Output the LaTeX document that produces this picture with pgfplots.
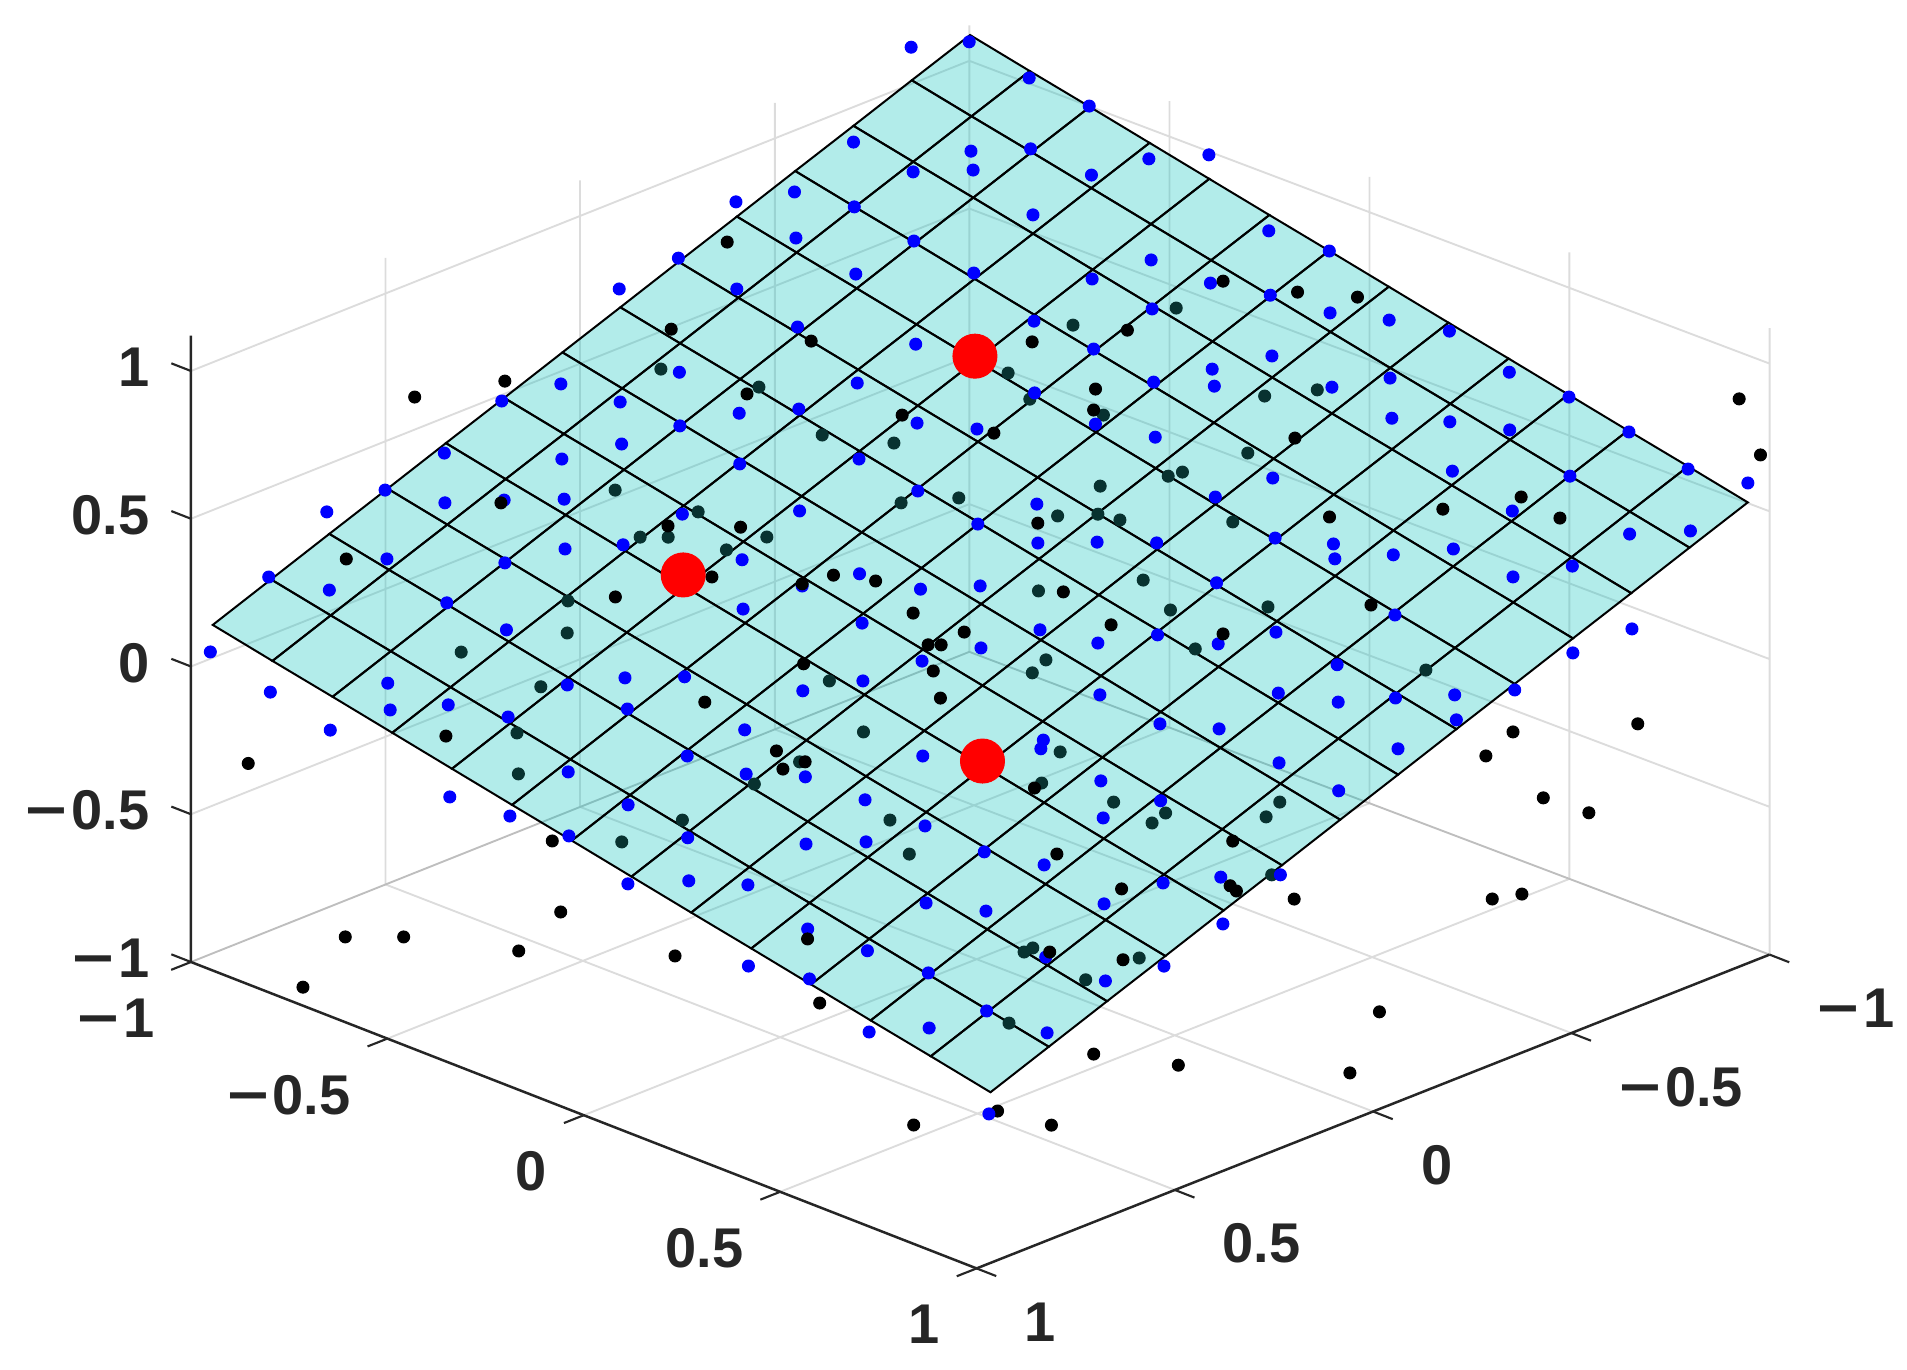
\documentclass[border=0pt]{standalone}
\usepackage{fontspec}
\setmainfont{Liberation Sans}
\usepackage{graphicx}
\usepackage{pgfplots}
\pgfplotsset{compat=1.18}
\definecolor{axisdark}{RGB}{38,38,38}
\definecolor{wallgray}{RGB}{220,220,220}
\definecolor{seamgray}{RGB}{190,190,190}
\definecolor{underplane}{RGB}{8,50,48}
\newcommand{\mn}{\scalebox{1.28}[1]{−}\hspace{0.07em}}

\begin{document}
\begin{tikzpicture}
\useasboundingbox (-392.12pt,-282.88pt) rectangle (370.68pt,265.12pt);
\begin{axis}[
    at={(0pt,0pt)}, anchor=origin,
    x={(-158.6pt,-62.76pt)}, y={(157.12pt,-61.28pt)}, z={(0pt,118.2pt)},
    xmin=-1, xmax=1, ymin=-1, ymax=1, zmin=-1, zmax=1.12,
    clip=false,
    axis line style={draw=none},
    major tick length=0pt,
    xtick={-1,-0.5,0,0.5,1}, ytick={-1,-0.5,0,0.5,1}, ztick={-1,-0.5,0,0.5,1},
    xticklabels={\mn 1,\mn 0.5,0,0.5,1},
    yticklabels={\mn 1,\mn 0.5,0,0.5,1},
    zticklabels={\mn 1,\mn 0.5,0,0.5,1},
    tick label style={font=\bfseries\fontsize{22.4}{24}\selectfont, text=axisdark, inner sep=0pt},
    xticklabel style={anchor=west, xshift=19pt, yshift=-21.5pt},
    yticklabel style={anchor=east, xshift=-14.5pt, yshift=-22.5pt},
    zticklabel style={anchor=east, xshift=-16.5pt, yshift=1.5pt},
    colormap={planecol}{rgb255=(16,195,190) rgb255=(16,195,190)},
    unbounded coords=jump,
]
% wall and floor grid
\addplot3[wallgray, line width=0.75pt] coordinates {
(0.5,1,-1) (0.5075,-1.002,-1) (nan,nan,nan)
(0,1,-1) (0.015,-1.004,-1) (nan,nan,nan)
(-0.5,1,-1) (-0.4775,-1.005,-1) (nan,nan,nan)
(1,0.5,-1) (-0.9925,0.498,-1) (nan,nan,nan)
(1,0,-1) (-0.985,-0.0035,-1) (nan,nan,nan)
(1,-0.5,-1) (-0.9775,-0.505,-1) (nan,nan,nan)
(0.5075,-1.002,-1) (0.5075,-1.002,1.12) (nan,nan,nan)
(0.015,-1.004,-1) (0.015,-1.004,1.12) (nan,nan,nan)
(-0.4775,-1.005,-1) (-0.4775,-1.005,1.12) (nan,nan,nan)
(-0.97,-1.007,-1) (-0.97,-1.007,1.12) (nan,nan,nan)
(-1,1,-1) (-1,1,1.12) (nan,nan,nan)
(-0.9925,0.498,-1) (-0.9925,0.498,1.12) (nan,nan,nan)
(-0.985,-0.0035,-1) (-0.985,-0.0035,1.12) (nan,nan,nan)
(-0.9775,-0.505,-1) (-0.9775,-0.505,1.12) (nan,nan,nan)
(1,-1,-0.5) (-0.97,-1.007,-0.5) (-1,1,-0.5) (nan,nan,nan)
(1,-1,0) (-0.97,-1.007,0) (-1,1,0) (nan,nan,nan)
(1,-1,0.5) (-0.97,-1.007,0.5) (-1,1,0.5) (nan,nan,nan)
(1,-1,1) (-0.97,-1.007,1) (-1,1,1)
};
\addplot3[seamgray, line width=0.75pt] coordinates {(1,-1,-1) (-0.97,-1.007,-1) (-1,1,-1)};

% axis lines and ticks
\addplot3[axisdark, line width=1pt] coordinates {(-1,1,-1) (1,1,-1) (1,-1,-1) (1,-1,1.12)};
\addplot3[axisdark, line width=0.85pt] coordinates {
(-1,1,-1) (-1,1.05,-1) (nan,nan,nan)
(-0.5,1,-1) (-0.5,1.05,-1) (nan,nan,nan)
(0,1,-1) (0,1.05,-1) (nan,nan,nan)
(0.5,1,-1) (0.5,1.05,-1) (nan,nan,nan)
(1,1,-1) (1,1.05,-1) (nan,nan,nan)
(1,-1,-1) (1.05,-1,-1) (nan,nan,nan)
(1,-0.5,-1) (1.05,-0.5,-1) (nan,nan,nan)
(1,0,-1) (1.05,0,-1) (nan,nan,nan)
(1,0.5,-1) (1.05,0.5,-1) (nan,nan,nan)
(1,1,-1) (1.05,1,-1) (nan,nan,nan)
(1,-1,-1) (1,-1.05,-1) (nan,nan,nan)
(1,-1,-0.5) (1,-1.05,-0.5) (nan,nan,nan)
(1,-1,0) (1,-1.05,0) (nan,nan,nan)
(1,-1,0.5) (1,-1.05,0.5) (nan,nan,nan)
(1,-1,1) (1,-1.05,1)
};

% points outside the plane
\addplot3[only marks, mark=*, mark size=2.4pt, black] table {
x y z
-0.445 0.907 0
-0.334 0.950 0
-0.461 0.968 -0.2
-0.565 0.979 -0.3
-0.722 0.945 -0.1
-0.953 0.970 0.89
-0.980 0.997 0.7
0.918 -0.163 -0.2
0.917 -0.938 -0.34
0.916 -0.692 -0.8
0.843 -0.617 -0.8
0.756 -0.305 -0.6
0.744 -0.424 -0.8
0.988 -0.727 -0.95
0.754 -0.016 -0.6
0.724 0.322 -0.6
0.848 0.900 -0.6
0.903 0.742 -0.7
0.731 0.919 -0.7
0.450 0.743 -0.7
-0.233 0.781 -0.9
0.190 0.696 -0.9
0 0.941 -0.9
-0.014 0.785 -0.4
-0.357 0.943 -0.5
-0.410 0.965 -0.5
};

% the plane
\addplot3[surf, shader=faceted, faceted color=black, fill opacity=0.32, draw opacity=1, line width=0.8pt, mesh/rows=14, mesh/cols=14] coordinates {
(-0.955,-0.99,1.104) (-0.955,-0.838,1.061) (-0.955,-0.685,1.019) (-0.955,-0.533,0.976) (-0.955,-0.381,0.933) (-0.955,-0.228,0.890) (-0.955,-0.076,0.848) (-0.955,0.076,0.805) (-0.955,0.228,0.762) (-0.955,0.381,0.720) (-0.955,0.533,0.677) (-0.955,0.685,0.634) (-0.955,0.838,0.592) (-0.955,0.99,0.549)
(-0.808,-0.99,1.029) (-0.808,-0.838,0.986) (-0.808,-0.685,0.944) (-0.808,-0.533,0.901) (-0.808,-0.381,0.858) (-0.808,-0.228,0.815) (-0.808,-0.076,0.773) (-0.808,0.076,0.730) (-0.808,0.228,0.687) (-0.808,0.381,0.645) (-0.808,0.533,0.602) (-0.808,0.685,0.559) (-0.808,0.838,0.517) (-0.808,0.99,0.474)
(-0.661,-0.99,0.953) (-0.661,-0.838,0.910) (-0.661,-0.685,0.868) (-0.661,-0.533,0.825) (-0.661,-0.381,0.782) (-0.661,-0.228,0.739) (-0.661,-0.076,0.697) (-0.661,0.076,0.654) (-0.661,0.228,0.611) (-0.661,0.381,0.569) (-0.661,0.533,0.526) (-0.661,0.685,0.483) (-0.661,0.838,0.441) (-0.661,0.99,0.398)
(-0.514,-0.99,0.878) (-0.514,-0.838,0.835) (-0.514,-0.685,0.793) (-0.514,-0.533,0.750) (-0.514,-0.381,0.707) (-0.514,-0.228,0.664) (-0.514,-0.076,0.622) (-0.514,0.076,0.579) (-0.514,0.228,0.536) (-0.514,0.381,0.494) (-0.514,0.533,0.451) (-0.514,0.685,0.408) (-0.514,0.838,0.366) (-0.514,0.99,0.323)
(-0.367,-0.99,0.802) (-0.367,-0.838,0.759) (-0.367,-0.685,0.717) (-0.367,-0.533,0.674) (-0.367,-0.381,0.631) (-0.367,-0.228,0.588) (-0.367,-0.076,0.546) (-0.367,0.076,0.503) (-0.367,0.228,0.460) (-0.367,0.381,0.418) (-0.367,0.533,0.375) (-0.367,0.685,0.332) (-0.367,0.838,0.290) (-0.367,0.99,0.247)
(-0.220,-0.99,0.727) (-0.220,-0.838,0.684) (-0.220,-0.685,0.642) (-0.220,-0.533,0.599) (-0.220,-0.381,0.556) (-0.220,-0.228,0.513) (-0.220,-0.076,0.471) (-0.220,0.076,0.428) (-0.220,0.228,0.385) (-0.220,0.381,0.343) (-0.220,0.533,0.300) (-0.220,0.685,0.257) (-0.220,0.838,0.215) (-0.220,0.99,0.172)
(-0.073,-0.99,0.651) (-0.073,-0.838,0.608) (-0.073,-0.685,0.566) (-0.073,-0.533,0.523) (-0.073,-0.381,0.480) (-0.073,-0.228,0.437) (-0.073,-0.076,0.395) (-0.073,0.076,0.352) (-0.073,0.228,0.309) (-0.073,0.381,0.267) (-0.073,0.533,0.224) (-0.073,0.685,0.181) (-0.073,0.838,0.139) (-0.073,0.99,0.096)
(0.073,-0.99,0.576) (0.073,-0.838,0.533) (0.073,-0.685,0.491) (0.073,-0.533,0.448) (0.073,-0.381,0.405) (0.073,-0.228,0.362) (0.073,-0.076,0.320) (0.073,0.076,0.277) (0.073,0.228,0.234) (0.073,0.381,0.192) (0.073,0.533,0.149) (0.073,0.685,0.106) (0.073,0.838,0.064) (0.073,0.99,0.021)
(0.220,-0.99,0.500) (0.220,-0.838,0.457) (0.220,-0.685,0.415) (0.220,-0.533,0.372) (0.220,-0.381,0.329) (0.220,-0.228,0.286) (0.220,-0.076,0.244) (0.220,0.076,0.201) (0.220,0.228,0.158) (0.220,0.381,0.116) (0.220,0.533,0.073) (0.220,0.685,0.030) (0.220,0.838,-0.012) (0.220,0.99,-0.055)
(0.367,-0.99,0.425) (0.367,-0.838,0.382) (0.367,-0.685,0.340) (0.367,-0.533,0.297) (0.367,-0.381,0.254) (0.367,-0.228,0.211) (0.367,-0.076,0.169) (0.367,0.076,0.126) (0.367,0.228,0.083) (0.367,0.381,0.041) (0.367,0.533,-0.002) (0.367,0.685,-0.045) (0.367,0.838,-0.087) (0.367,0.99,-0.130)
(0.514,-0.99,0.349) (0.514,-0.838,0.306) (0.514,-0.685,0.264) (0.514,-0.533,0.221) (0.514,-0.381,0.178) (0.514,-0.228,0.135) (0.514,-0.076,0.093) (0.514,0.076,0.050) (0.514,0.228,0.007) (0.514,0.381,-0.035) (0.514,0.533,-0.078) (0.514,0.685,-0.121) (0.514,0.838,-0.163) (0.514,0.99,-0.206)
(0.661,-0.99,0.274) (0.661,-0.838,0.231) (0.661,-0.685,0.189) (0.661,-0.533,0.146) (0.661,-0.381,0.103) (0.661,-0.228,0.060) (0.661,-0.076,0.018) (0.661,0.076,-0.025) (0.661,0.228,-0.068) (0.661,0.381,-0.110) (0.661,0.533,-0.153) (0.661,0.685,-0.196) (0.661,0.838,-0.238) (0.661,0.99,-0.281)
(0.808,-0.99,0.198) (0.808,-0.838,0.155) (0.808,-0.685,0.113) (0.808,-0.533,0.070) (0.808,-0.381,0.027) (0.808,-0.228,-0.016) (0.808,-0.076,-0.058) (0.808,0.076,-0.101) (0.808,0.228,-0.144) (0.808,0.381,-0.186) (0.808,0.533,-0.229) (0.808,0.685,-0.272) (0.808,0.838,-0.314) (0.808,0.99,-0.357)
(0.955,-0.99,0.122) (0.955,-0.838,0.079) (0.955,-0.685,0.037) (0.955,-0.533,-0.006) (0.955,-0.381,-0.049) (0.955,-0.228,-0.092) (0.955,-0.076,-0.134) (0.955,0.076,-0.177) (0.955,0.228,-0.220) (0.955,0.381,-0.262) (0.955,0.533,-0.305) (0.955,0.685,-0.348) (0.955,0.838,-0.390) (0.955,0.99,-0.433)
};

% black points seen through the plane
\addplot3[only marks, mark=*, mark size=2.4pt, underplane] table {
x y z
0.377 -0.549 0.5
0.602 -0.442 0.3
0.706 -0.339 0.3
0.900 -0.413 0.3
-0.536 -0.305 0.7
0.121 -0.691 0.7
-0.301 -0.233 0.7
0.056 -0.507 0.7
-0.434 -0.312 0.5
-0.475 -0.166 0.5
-0.720 -0.228 0.7
-0.738 -0.021 0.5
-0.634 0.218 0.7
-0.534 0.142 0.5
-0.391 0.120 0.5
-0.360 0.115 0.5
-0.243 0.060 0.5
-0.059 -0.462 0.5
-0.123 -0.344 0.5
0.343 -0.372 0.5
0.060 -0.141 0.5
-0.028 -0.083 0.5
-0.094 0.102 0.5
-0.150 0.148 0.5
0.307 -0.556 0.3
0.272 -0.520 0.3
0.148 -0.394 0.3
0.240 -0.404 0.3
-0.019 0.129 0.3
0.193 0.362 0.3
0.062 0.195 0.1
0.342 -0.039 0.1
0.463 0.170 0.1
0.281 0.487 0.1
0.639 0.185 0.1
0.767 0.199 0.1
0.404 0.564 0.1
0.783 0.032 -0.1
0.523 0.298 -0.1
-0.159 0.195 0.5
-0.294 0.346 0.5
-0.185 0.228 0.3
-0.123 0.360 0.3
-0.255 0.475 0.3
-0.029 0.518 0.3
-0.250 0.882 0.3
0.375 0.718 0.1
0.345 0.820 0.1
0.394 0.835 0.1
0.167 0.931 0.1
0.042 0.770 -0.1
0.221 0.965 -0.1
0.722 -0.390 0.1
0.900 -0.271 0.1
0.840 -0.328 -0.1
0.929 0.025 -0.1
0.608 0.433 -0.1
0.565 0.704 -0.3
0.589 0.706 -0.3
0.601 0.875 -0.3
0.836 0.917 -0.3
0.464 0.873 -0.3
};

% points above the plane
\addplot3[only marks, mark=*, mark size=2.4pt, blue] table {
x y z
-0.846 -1.030 1.1
-0.936 -0.973 1.1
-0.895 -0.779 1.1
-0.880 -0.611 1.1
-0.659 -0.988 0.9
-0.777 -0.808 0.9
-0.719 -0.744 0.9
-0.638 -0.815 0.9
-0.859 -0.739 0.9
-0.851 -0.576 0.9
-0.425 -0.902 0.9
-0.320 -0.945 0.9
-0.452 -0.777 0.9
-0.650 -0.522 0.9
-0.279 -0.751 0.9
-0.417 -0.590 0.9
-0.975 -0.555 0.9
-1.063 -0.491 0.9
-0.894 -0.168 0.9
-0.905 -0.025 0.9
-0.257 -1.028 0.7
-0.428 -0.749 0.7
-0.579 -0.601 0.7
-0.708 -0.430 0.7
-0.231 -0.853 0.7
-0.084 -1.004 0.7
-0.185 -0.652 0.7
-0.500 -0.368 0.7
-0.278 -0.445 0.7
-0.485 -0.201 0.7
0.108 -0.657 0.7
-0.080 -0.394 0.7
0.294 -0.771 0.7
-0.843 -0.416 0.7
-0.843 -0.265 0.7
-0.879 -0.149 0.7
-0.687 -0.256 0.7
-0.897 -0.015 0.7
-0.948 0.084 0.7
-0.988 0.197 0.7
-0.686 0.050 0.7
-0.569 0.016 0.7
-0.517 0.074 0.7
-0.454 -0.017 0.7
-0.763 0.273 0.7
-0.661 0.228 0.7
-0.931 0.407 0.7
-0.926 0.564 0.7
-0.889 0.754 0.7
-0.844 0.950 0.7
-0.969 0.976 0.6
-0.460 -0.326 0.5
-0.025 -0.639 0.5
-0.113 -0.576 0.5
-0.216 -0.379 0.5
0.233 -0.983 0.5
0.088 -0.828 0.5
0.472 -0.888 0.5
0.221 -0.690 0.5
0.344 -0.718 0.5
0.665 -0.844 0.5
0.808 -0.848 0.5
0.631 -0.726 0.5
0.548 -0.659 0.5
0.470 -0.585 0.5
0.090 -0.674 0.5
0.137 -0.474 0.5
-0.028 -0.337 0.5
-0.272 -0.283 0.5
-0.436 -0.147 0.5
0.001 -0.158 0.5
0.213 -0.245 0.5
0.370 -0.385 0.5
0.032 0.026 0.5
-0.106 0.037 0.5
-0.469 -0.028 0.5
-0.826 0.214 0.5
-0.887 0.300 0.5
-0.936 0.403 0.5
-0.732 0.463 0.5
-0.863 0.630 0.5
-0.485 0.255 0.5
-0.352 0.243 0.5
-0.679 0.669 0.5
-0.752 0.894 0.5
-0.838 0.962 0.5
0.353 -0.553 0.3
0.439 -0.614 0.3
0.694 -0.810 0.3
0.559 -0.646 0.3
0.900 -0.903 0.3
0.866 -0.783 0.3
0.760 -0.591 0.3
0.772 -0.427 0.3
0.967 -0.984 0.04
0.252 -0.352 0.3
0.150 -0.156 0.3
0.123 -0.028 0.3
0.038 0.038 0.3
0.261 -0.190 0.3
0.409 -0.191 0.3
0.305 0.007 0.3
0.104 0.257 0.3
0.074 0.374 0.3
0.236 0.240 0.3
0.352 0.207 0.3
-0.172 -0.027 0.3
-0.249 0.046 0.3
-0.321 0.125 0.3
-0.485 0.261 0.3
-0.539 0.355 0.3
-0.493 0.405 0.3
-0.579 0.467 0.3
-0.673 0.525 0.3
-0.658 0.692 0.3
-0.767 0.733 0.3
-0.268 0.331 0.3
-0.388 0.664 0.3
-0.184 0.567 0.3
-0.027 0.424 0.3
-0.074 0.531 0.3
-0.156 0.751 0.3
-0.489 1.015 0.3
-0.640 1.013 0.3
0.300 0.004 0.1
0.407 -0.041 0.1
0.510 -0.238 0.1
0.048 0.353 0.1
0.605 0.011 0.1
0.264 0.427 0.1
0.295 0.452 0.1
0.466 0.324 0.1
0.761 0.022 0.1
0.745 0.156 0.1
0.680 0.241 0.1
0.323 0.633 0.1
0.679 0.392 0.1
-0.487 0.869 0.1
-0.181 0.576 0.1
-0.227 0.682 0.1
-0.312 0.742 0.1
-0.396 0.808 0.1
-0.318 0.891 0.1
0.066 0.524 0.1
0.008 0.616 0.1
-0.152 0.910 0.1
0.042 0.803 0.1
0.057 0.970 0.1
0.888 -0.911 -0.1
0.935 -0.711 -0.1
0.902 -0.598 0.1
0.985 -0.508 0.1
0.896 -0.450 0.1
0.860 -0.334 0.1
0.683 -0.362 0.1
0.588 -0.311 0.1
0.685 -0.207 0.1
0.961 -0.079 0.1
0.905 -0.437 -0.2
0.891 -0.298 -0.2
0.881 -0.158 -0.2
0.802 -0.087 -0.1
0.833 0.096 -0.1
0.961 0.073 -0.2
0.705 0.268 -0.1
0.623 0.338 -0.1
0.498 0.362 -0.1
0.507 0.522 -0.1
0.474 0.641 -0.1
0.524 0.844 -0.1
0.970 0.237 -0.1
0.909 0.326 -0.1
0.744 0.613 -0.1
0.695 0.716 -0.1
0.786 0.354 -0.3
0.781 0.501 -0.3
0.578 0.750 -0.3
0.776 0.651 -0.3
0.580 0.904 -0.3
0.944 0.518 -0.3
0.979 0.398 -0.3
0.825 0.849 -0.3
0.850 0.575 -0.5
0.762 0.639 -0.5
0.630 0.806 -0.5
0.963 0.994 -0.5
0.250 0.870 -0.3
0.459 0.931 -0.3
0.312 0.774 0.1
0.383 0.852 -0.1
0.292 0.907 -0.1
0.210 0.976 -0.1
0.439 0.756 0.1
};

% black points in front of the plane
\addplot3[only marks, mark=*, mark size=2.4pt, black] table {
x y z
0.519 -0.916 0.7
0.355 -0.852 0.7
0.561 -0.654 0.5
0.745 -0.862 0.3
0.530 -0.394 0.3
-0.180 -0.826 0.9
-0.157 -0.589 0.7
-0.431 -0.303 0.7
-0.020 -0.807 0.7
0.093 -0.500 0.7
-0.359 -0.069 0.7
-0.479 -0.195 0.5
-0.223 -0.424 0.5
-0.865 -0.255 0.7
-0.923 -0.124 0.7
-0.982 -0.031 0.7
-0.588 -0.219 0.7
-0.641 0.154 0.5
-0.735 0.635 0.5
-0.280 -0.248 0.5
-0.046 0.100 0.5
0.426 -0.365 0.5
0.339 -0.268 0.5
0.345 -0.335 0.3
0.254 -0.197 0.3
0.187 -0.185 0.3
0.153 -0.112 0.3
-0.047 0.164 0.3
0.209 0.040 0.3
0.206 0.167 0.3
0.292 0.162 0.3
0.276 0.179 0.3
0.509 0.064 0.3
0.180 0.062 0.1
0.258 0.159 0.1
0.566 -0.130 0.1
0.633 0.120 0.1
0.632 0.192 0.1
0.683 0.187 0.1
0.429 0.571 0.1
-0.001 0.332 0.3
-0.431 0.454 0.5
-0.598 0.574 0.5
-0.716 0.753 0.5
-0.390 0.601 0.3
-0.112 0.505 0.3
0.351 0.997 0.1
0.308 0.947 -0.1
0.317 0.972 -0.1
0.454 0.818 -0.1
0.423 0.622 -0.1
0.818 0.386 -0.3
0.557 0.739 -0.3
0.490 0.858 -0.3
0.999 -0.352 0.1
};

% the three fitted points
\addplot3[only marks, mark=*, mark size=8.8pt, red] table {
x y z
-0.361 -0.378 0.65
0.346 -0.407 0.27
0.360 0.369 0.05
};
\end{axis}
\end{tikzpicture}
\end{document}
